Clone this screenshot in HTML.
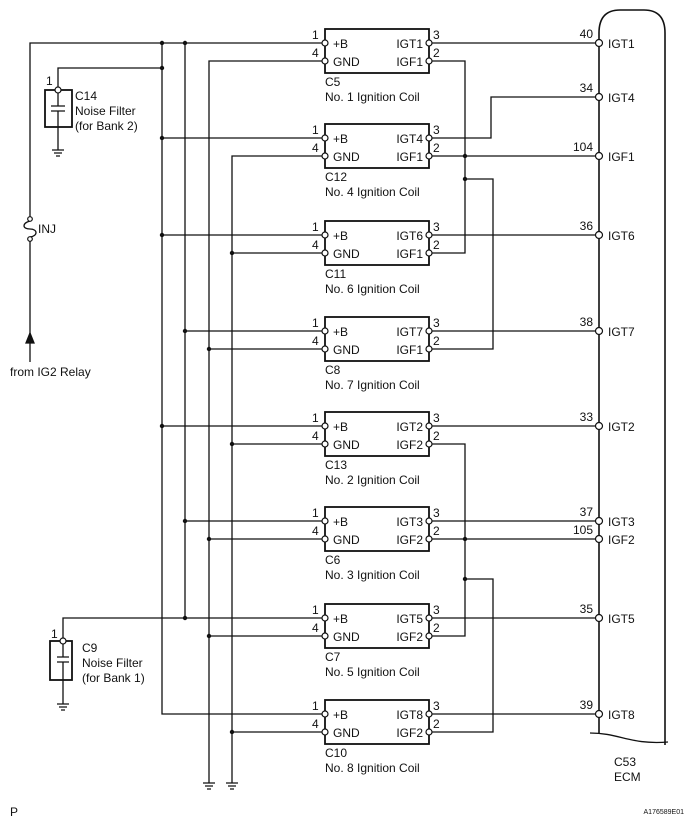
<!DOCTYPE html>
<html><head><meta charset="utf-8"><style>
html,body{margin:0;padding:0;background:#fff;}
svg{display:block;}
text{font-family:"Liberation Sans",sans-serif;font-size:12px;fill:#111;}
.s{font-size:7px;}
</style></head><body>
<svg width="690" height="827" viewBox="0 0 690 827" xmlns="http://www.w3.org/2000/svg">
<g stroke="#111" stroke-width="1.3" fill="none">
<path d="M322,43 H30 V219 M30,239 V362"/>
<path d="M30,221 C22,223 22,229 30,229 C38,229 38,236 30,237"/>
<path d="M26,343 L30,333 L34,343 Z" fill="#111"/>
<path d="M162,43 V714 H322"/>
<path d="M185,43 V618"/>
<path d="M209,783 V61 H322"/>
<path d="M232,783 V156 H322"/>
<path d="M162,138 H322 M162,235 H322 M185,331 H322 M162,426 H322 M185,521 H322"/>
<path d="M63,641 V618 H322"/>
<path d="M162,68 H58 V90"/>
<path d="M232,253 H322 M209,349 H322 M232,444 H322 M209,539 H322 M209,636 H322 M232,732 H322"/>
<path d="M203,783 H215 M205,786 H213 M207,789 H211"/>
<path d="M226,783 H238 M228,786 H236 M230,789 H234"/>
<rect x="45" y="90" width="27" height="37" stroke-width="1.8"/>
<path d="M58,90 V106 M51,106 H65 M51,111 H65 M58,111 V150"/>
<path d="M52,150 H64 M54,153 H62 M56,156 H60"/>
<rect x="50" y="641" width="22" height="39" stroke-width="1.8"/>
<path d="M63,641 V657 M57,657 H69 M57,662 H69 M63,662 V704"/>
<path d="M57,704 H69 M59,707 H67 M61,710 H65"/>
<g stroke-width="1.8">
<rect x="325" y="29" width="104" height="44"/>
<rect x="325" y="124" width="104" height="44"/>
<rect x="325" y="221" width="104" height="44"/>
<rect x="325" y="317" width="104" height="44"/>
<rect x="325" y="412" width="104" height="44"/>
<rect x="325" y="507" width="104" height="44"/>
<rect x="325" y="604" width="104" height="44"/>
<rect x="325" y="700" width="104" height="44"/>
</g>
<path d="M432,43 H596 M432,235 H596 M432,331 H596 M432,426 H596 M432,521 H596 M432,618 H596 M432,714 H596"/>
<path d="M432,138 H491 V97 H596"/>
<path d="M432,156 H596 M432,539 H596"/>
<path d="M432,61 H465 V253 H432 M465,179 H493 V349 H432"/>
<path d="M432,444 H465 V636 H432 M465,579 H493 V732 H432"/>
<path d="M599,733 V33 Q599,10 620,10 H644 Q665,10 665,33 V745" stroke-width="1.6"/>
<path d="M590,733 C620,733 630,745 668,742"/>
</g>
<g fill="#111">
<circle cx="162" cy="43" r="2.2"/><circle cx="185" cy="43" r="2.2"/><circle cx="162" cy="68" r="2.2"/>
<circle cx="162" cy="138" r="2.2"/><circle cx="162" cy="235" r="2.2"/><circle cx="162" cy="426" r="2.2"/>
<circle cx="185" cy="331" r="2.2"/><circle cx="185" cy="521" r="2.2"/><circle cx="185" cy="618" r="2.2"/>
<circle cx="209" cy="349" r="2.2"/><circle cx="209" cy="539" r="2.2"/><circle cx="209" cy="636" r="2.2"/>
<circle cx="232" cy="253" r="2.2"/><circle cx="232" cy="444" r="2.2"/><circle cx="232" cy="732" r="2.2"/>
<circle cx="465" cy="156" r="2.2"/><circle cx="465" cy="179" r="2.2"/>
<circle cx="465" cy="539" r="2.2"/><circle cx="465" cy="579" r="2.2"/>
</g>
<g fill="#fff" stroke="#111" stroke-width="1.2">
<circle cx="30" cy="219" r="2.3"/><circle cx="30" cy="239" r="2.3"/>
<circle cx="58" cy="90" r="3"/><circle cx="63" cy="641" r="3"/>
<circle cx="325" cy="43" r="3"/><circle cx="325" cy="61" r="3"/><circle cx="429" cy="43" r="3"/><circle cx="429" cy="61" r="3"/>
<circle cx="325" cy="138" r="3"/><circle cx="325" cy="156" r="3"/><circle cx="429" cy="138" r="3"/><circle cx="429" cy="156" r="3"/>
<circle cx="325" cy="235" r="3"/><circle cx="325" cy="253" r="3"/><circle cx="429" cy="235" r="3"/><circle cx="429" cy="253" r="3"/>
<circle cx="325" cy="331" r="3"/><circle cx="325" cy="349" r="3"/><circle cx="429" cy="331" r="3"/><circle cx="429" cy="349" r="3"/>
<circle cx="325" cy="426" r="3"/><circle cx="325" cy="444" r="3"/><circle cx="429" cy="426" r="3"/><circle cx="429" cy="444" r="3"/>
<circle cx="325" cy="521" r="3"/><circle cx="325" cy="539" r="3"/><circle cx="429" cy="521" r="3"/><circle cx="429" cy="539" r="3"/>
<circle cx="325" cy="618" r="3"/><circle cx="325" cy="636" r="3"/><circle cx="429" cy="618" r="3"/><circle cx="429" cy="636" r="3"/>
<circle cx="325" cy="714" r="3"/><circle cx="325" cy="732" r="3"/><circle cx="429" cy="714" r="3"/><circle cx="429" cy="732" r="3"/>
<circle cx="599" cy="43" r="3.5"/><circle cx="599" cy="97" r="3.5"/><circle cx="599" cy="156" r="3.5"/><circle cx="599" cy="235" r="3.5"/>
<circle cx="599" cy="331" r="3.5"/><circle cx="599" cy="426" r="3.5"/><circle cx="599" cy="521" r="3.5"/><circle cx="599" cy="539" r="3.5"/>
<circle cx="599" cy="618" r="3.5"/><circle cx="599" cy="714" r="3.5"/>
</g>
<text x="38" y="233">INJ</text>
<text x="10" y="376">from IG2 Relay</text>
<text x="46" y="85">1</text>
<text x="75" y="100">C14</text><text x="75" y="115">Noise Filter</text><text x="75" y="130">(for Bank 2)</text>
<text x="51" y="638">1</text>
<text x="82" y="652">C9</text><text x="82" y="667">Noise Filter</text><text x="82" y="682">(for Bank 1)</text>
<text x="10" y="816">P</text>
<text x="684" y="814" text-anchor="end" class="s">A176589E01</text>
<g>
<text x="312" y="39">1</text><text x="312" y="57">4</text><text x="333" y="48">+B</text><text x="333" y="66">GND</text>
<text x="423" y="48" text-anchor="end">IGT1</text><text x="423" y="66" text-anchor="end">IGF1</text><text x="433" y="39">3</text><text x="433" y="57">2</text>
<text x="325" y="86">C5</text><text x="325" y="101">No. 1 Ignition Coil</text>

<text x="312" y="134">1</text><text x="312" y="152">4</text><text x="333" y="143">+B</text><text x="333" y="161">GND</text>
<text x="423" y="143" text-anchor="end">IGT4</text><text x="423" y="161" text-anchor="end">IGF1</text><text x="433" y="134">3</text><text x="433" y="152">2</text>
<text x="325" y="181">C12</text><text x="325" y="196">No. 4 Ignition Coil</text>

<text x="312" y="231">1</text><text x="312" y="249">4</text><text x="333" y="240">+B</text><text x="333" y="258">GND</text>
<text x="423" y="240" text-anchor="end">IGT6</text><text x="423" y="258" text-anchor="end">IGF1</text><text x="433" y="231">3</text><text x="433" y="249">2</text>
<text x="325" y="278">C11</text><text x="325" y="293">No. 6 Ignition Coil</text>

<text x="312" y="327">1</text><text x="312" y="345">4</text><text x="333" y="336">+B</text><text x="333" y="354">GND</text>
<text x="423" y="336" text-anchor="end">IGT7</text><text x="423" y="354" text-anchor="end">IGF1</text><text x="433" y="327">3</text><text x="433" y="345">2</text>
<text x="325" y="374">C8</text><text x="325" y="389">No. 7 Ignition Coil</text>

<text x="312" y="422">1</text><text x="312" y="440">4</text><text x="333" y="431">+B</text><text x="333" y="449">GND</text>
<text x="423" y="431" text-anchor="end">IGT2</text><text x="423" y="449" text-anchor="end">IGF2</text><text x="433" y="422">3</text><text x="433" y="440">2</text>
<text x="325" y="469">C13</text><text x="325" y="484">No. 2 Ignition Coil</text>

<text x="312" y="517">1</text><text x="312" y="535">4</text><text x="333" y="526">+B</text><text x="333" y="544">GND</text>
<text x="423" y="526" text-anchor="end">IGT3</text><text x="423" y="544" text-anchor="end">IGF2</text><text x="433" y="517">3</text><text x="433" y="535">2</text>
<text x="325" y="564">C6</text><text x="325" y="579">No. 3 Ignition Coil</text>

<text x="312" y="614">1</text><text x="312" y="632">4</text><text x="333" y="623">+B</text><text x="333" y="641">GND</text>
<text x="423" y="623" text-anchor="end">IGT5</text><text x="423" y="641" text-anchor="end">IGF2</text><text x="433" y="614">3</text><text x="433" y="632">2</text>
<text x="325" y="661">C7</text><text x="325" y="676">No. 5 Ignition Coil</text>

<text x="312" y="710">1</text><text x="312" y="728">4</text><text x="333" y="719">+B</text><text x="333" y="737">GND</text>
<text x="423" y="719" text-anchor="end">IGT8</text><text x="423" y="737" text-anchor="end">IGF2</text><text x="433" y="710">3</text><text x="433" y="728">2</text>
<text x="325" y="757">C10</text><text x="325" y="772">No. 8 Ignition Coil</text>
</g>
<g>
<text x="593" y="38" text-anchor="end">40</text><text x="608" y="48">IGT1</text>
<text x="593" y="92" text-anchor="end">34</text><text x="608" y="102">IGT4</text>
<text x="593" y="151" text-anchor="end">104</text><text x="608" y="161">IGF1</text>
<text x="593" y="230" text-anchor="end">36</text><text x="608" y="240">IGT6</text>
<text x="593" y="326" text-anchor="end">38</text><text x="608" y="336">IGT7</text>
<text x="593" y="421" text-anchor="end">33</text><text x="608" y="431">IGT2</text>
<text x="593" y="516" text-anchor="end">37</text><text x="608" y="526">IGT3</text>
<text x="593" y="534" text-anchor="end">105</text><text x="608" y="544">IGF2</text>
<text x="593" y="613" text-anchor="end">35</text><text x="608" y="623">IGT5</text>
<text x="593" y="709" text-anchor="end">39</text><text x="608" y="719">IGT8</text>
<text x="614" y="766">C53</text><text x="614" y="781">ECM</text>
</g>
</svg>
</body></html>
